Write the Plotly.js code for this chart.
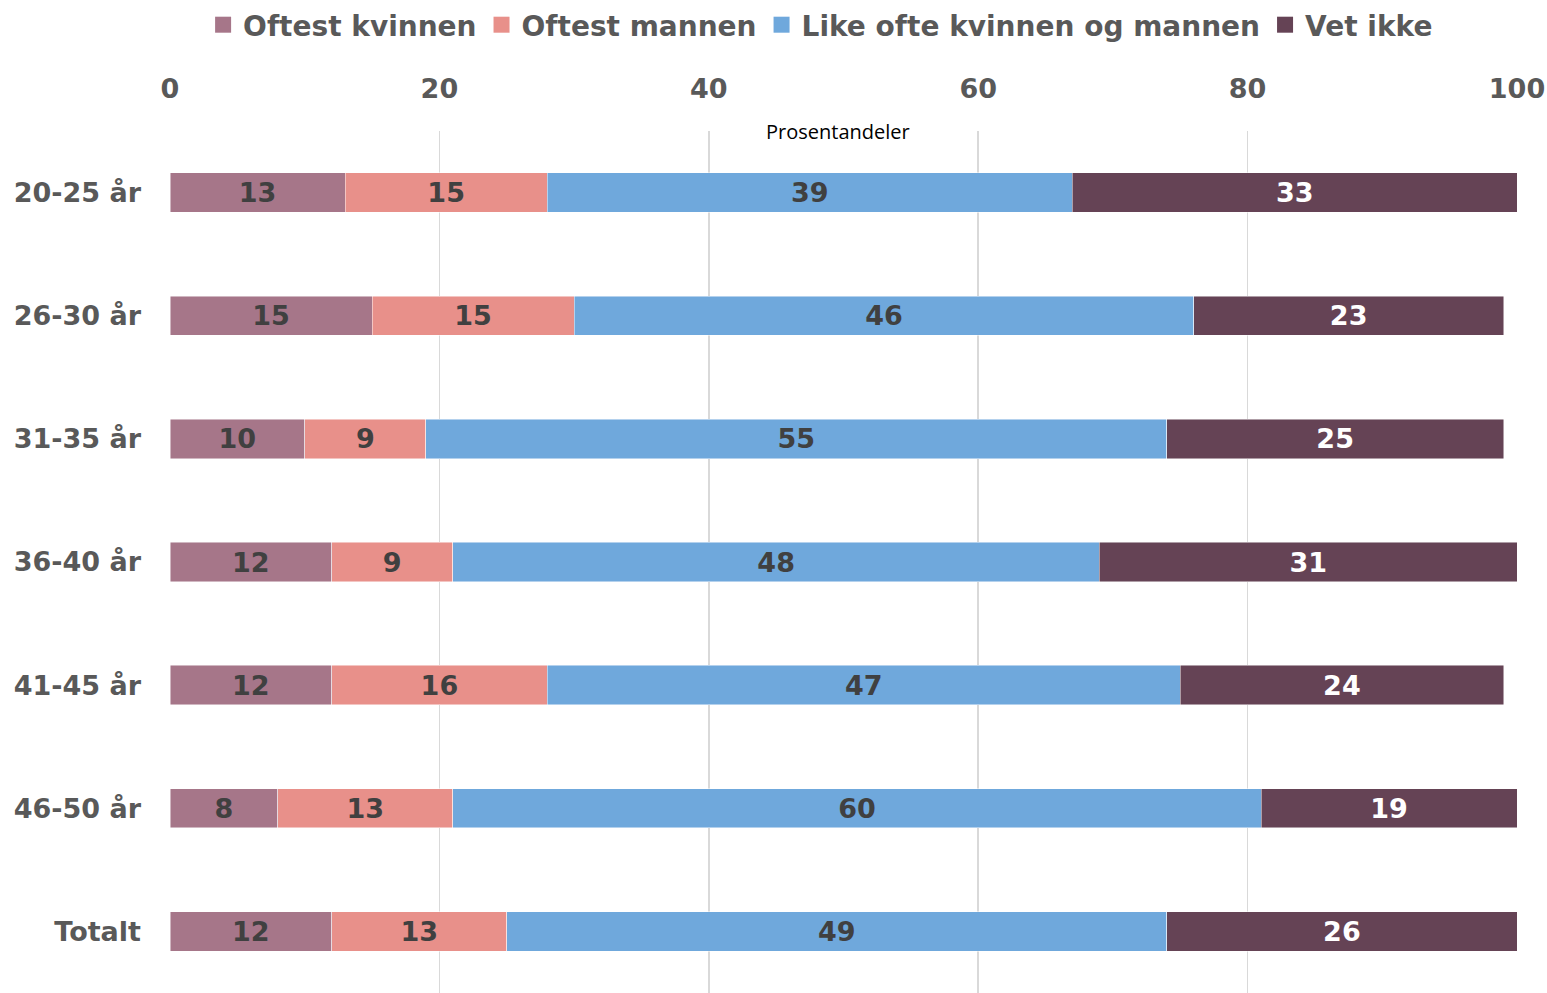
<!DOCTYPE html>
<html>
<head>
<meta charset="utf-8">
<script src="https://cdn.plot.ly/plotly-3.0.1.min.js"></script>
<style>
html,body{margin:0;padding:0;background:#fff;}
#chart{width:1547px;height:993px;}
</style>
</head>
<body>
<div id="chart"></div>
<script>
const categories = ["20-25 år","26-30 år","31-35 år","36-40 år","41-45 år","46-50 år","Totalt"];
const seriesNames = ["Oftest kvinnen","Oftest mannen","Like ofte kvinnen og mannen","Vet ikke"];
const oftestKvinnen = [13,15,10,12,12,8,12];
const oftestMannen = [15,15,9,9,16,13,13];
const likeOfte = [39,46,55,48,47,60,49];
const vetIkke = [33,23,25,31,24,19,26];
const tickValues = [0,20,40,60,80,100];
const axisTitle = "Prosentandeler";

const colors = ["#A67689","#E8908A","#6FA8DC","#654355"];
const textColors = ["#404040","#404040","#404040","#FFFFFF"];
const values = [oftestKvinnen, oftestMannen, likeOfte, vetIkke];
const boldFont = "DejaVu Sans, Lato, sans-serif";

const barTraces = values.map((v, i) => ({
  type: "bar",
  orientation: "h",
  name: seriesNames[i],
  showlegend: false,
  y: categories,
  x: v,
  text: v.map(String),
  textposition: "inside",
  insidetextanchor: "middle",
  textangle: 0,
  constraintext: "none",
  textfont: {family: boldFont, size: 27, color: textColors[i], weight: "bold"},
  marker: {color: colors[i], line: {color: "rgba(255,255,255,0.6)", width: 0.8}},
  hoverinfo: "none"
}));

// legend-only entries with larger square swatches
const legendTraces = seriesNames.map((n, i) => ({
  type: "scatter",
  mode: "markers",
  name: n,
  x: [null],
  y: [null],
  marker: {symbol: "square", size: 20, color: colors[i]},
  showlegend: true,
  hoverinfo: "none"
}));

const layout = {
  width: 1547,
  height: 993,
  margin: {l: 170, r: 30, t: 130, b: 0},
  paper_bgcolor: "#fff",
  plot_bgcolor: "#fff",
  barmode: "stack",
  bargap: 0.68,
  showlegend: true,
  legend: {
    orientation: "h",
    x: 0.483, xanchor: "center",
    y: 1.152, yanchor: "top",
    font: {family: boldFont, size: 28, color: "#595959", weight: "bold"},
    itemsizing: "trace",
    itemwidth: 30,
    traceorder: "normal",
    tracegroupgap: 0
  },
  xaxis: {
    side: "top",
    range: [0, 100],
    tickvals: tickValues,
    showgrid: true,
    gridcolor: "#D9D9D9",
    gridwidth: 1.5,
    zeroline: false,
    showline: false,
    ticks: "",
    ticklabelstandoff: 27,
    tickfont: {family: boldFont, size: 27, color: "#595959", weight: "bold"},
    fixedrange: true
  },
  yaxis: {
    type: "category",
    categoryorder: "array",
    categoryarray: categories,
    autorange: "reversed",
    showgrid: false,
    zeroline: false,
    showline: false,
    ticks: "",
    ticklabelstandoff: 28,
    tickfont: {family: boldFont, size: 27, color: "#595959", weight: "bold"},
    fixedrange: true
  },
  annotations: [{
    text: axisTitle,
    xref: "paper", yref: "paper",
    x: 0.496, y: 1.0, xanchor: "center", yanchor: "middle",
    showarrow: false,
    font: {family: "Open Sans, Liberation Sans, sans-serif", size: 20, color: "#000"}
  }]
};

Plotly.newPlot("chart", barTraces.concat(legendTraces), layout, {displayModeBar: false, staticPlot: true});
</script>
</body>
</html>
